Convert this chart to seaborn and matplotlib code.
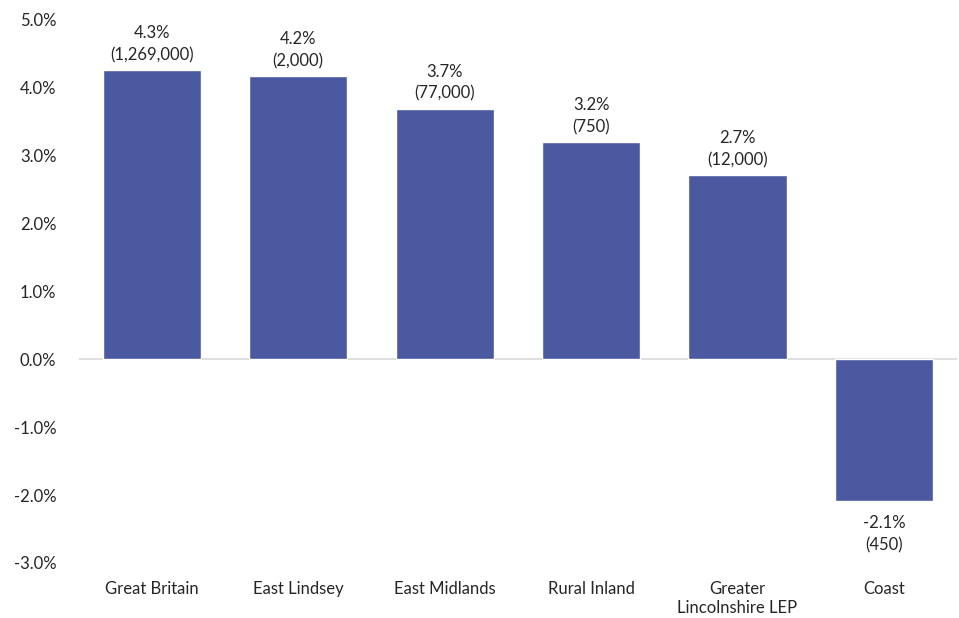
import matplotlib
matplotlib.use("Agg")
import matplotlib.pyplot as plt
import seaborn as sns
import pandas as pd
from matplotlib.ticker import FuncFormatter

# Datos
areas = ["Great Britain", "East Lindsey", "East Midlands", "Rural Inland",
         "Greater\nLincolnshire LEP", "Coast"]
cambio = [4.26, 4.17, 3.69, 3.20, 2.71, -2.09]
etiquetas = ["4.3%", "4.2%", "3.7%", "3.2%", "2.7%", "-2.1%"]
empleos = ["(1,269,000)", "(2,000)", "(77,000)", "(750)", "(12,000)", "(450)"]

sns.set_style("white")
plt.rcParams['font.family'] = ['Lato', 'DejaVu Sans']

df = pd.DataFrame({"area": areas, "cambio": cambio})

fig = plt.figure(figsize=(9.59, 6.18), dpi=100)
ax = fig.add_axes([0.082, 0.089, 0.916, 0.879])

sns.barplot(data=df, x="area", y="cambio", color="#4B59A0", saturation=1,
            width=0.67, ax=ax)

ax.axhline(0, color="#D9D9D9", lw=1.2, zorder=0)
ax.set_ylim(-3, 5)
ax.set_xlim(-0.5, 5.5)
ax.set_yticks(range(-3, 6))
ax.yaxis.set_major_formatter(FuncFormatter(lambda v, p: f"{v:.1f}%"))
for s in ax.spines.values():
    s.set_visible(False)
ax.set_xlabel("")
ax.set_ylabel("")
ax.tick_params(axis="y", length=0, pad=16, labelsize=12)
ax.tick_params(axis="x", length=0, pad=13, labelsize=12)

# Etiquetas de los datos
for i, v in enumerate(cambio):
    texto = f"{etiquetas[i]}\n{empleos[i]}"
    if v >= 0:
        ax.annotate(texto, (i, v), xytext=(0, 5), textcoords="offset points",
                    ha="center", va="bottom", fontsize=12, linespacing=1.45)
    else:
        ax.annotate(texto, (i, v), xytext=(0, -10), textcoords="offset points",
                    ha="center", va="top", fontsize=12, linespacing=1.45)

plt.savefig("out.png", dpi=100)
